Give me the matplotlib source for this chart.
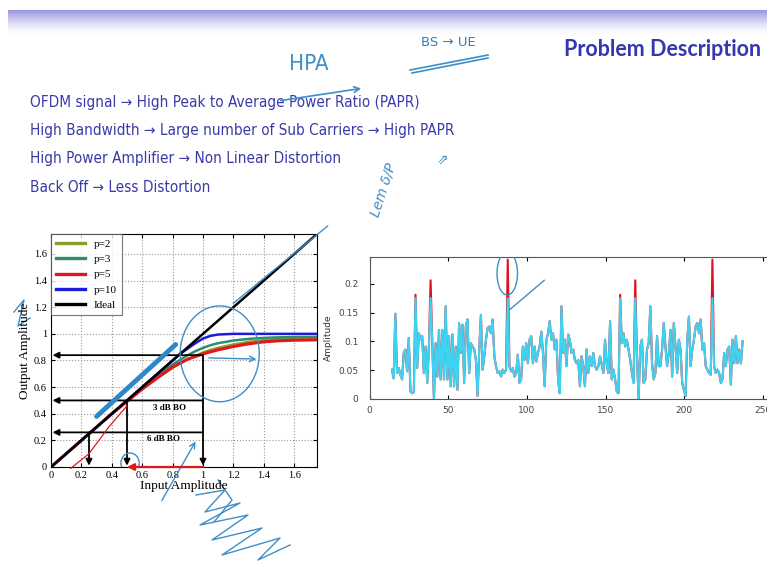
import numpy as np
import matplotlib
matplotlib.use("Agg")
import matplotlib.pyplot as plt
from matplotlib.patches import Ellipse

# ---- slide text ----
title = "Problem Description"
bullets = [
    "OFDM signal \u2192 High Peak to Average Power Ratio (PAPR)",
    "High Bandwidth \u2192 Large number of Sub Carriers \u2192 High PAPR",
    "High Power Amplifier \u2192 Non Linear Distortion",
    "Back Off \u2192 Less Distortion",
]

# ---- left chart: AM/AM curves ----
x_in = [0, 0.2, 0.4, 0.6, 0.7, 0.8, 0.85, 0.9, 0.95, 1.0, 1.05, 1.1, 1.2, 1.3, 1.4, 1.5, 1.6, 1.75]
out_p2 = [0, 0.2, 0.4, 0.585, 0.67, 0.745, 0.78, 0.81, 0.835, 0.86, 0.88, 0.895, 0.92, 0.94, 0.952, 0.96, 0.965, 0.97]
out_p3 = [0, 0.2, 0.4, 0.595, 0.685, 0.77, 0.805, 0.84, 0.87, 0.895, 0.915, 0.93, 0.95, 0.962, 0.97, 0.974, 0.976, 0.977]
out_p5 = [0, 0.2, 0.4, 0.585, 0.67, 0.75, 0.78, 0.81, 0.83, 0.85, 0.865, 0.88, 0.905, 0.925, 0.94, 0.948, 0.952, 0.955]
out_p10 = [0, 0.2, 0.4, 0.6, 0.7, 0.8, 0.85, 0.89, 0.93, 0.965, 0.985, 0.995, 1.0, 1.0, 1.0, 1.0, 1.0, 1.0]
ideal_x = [0, 1.75]
curve_labels = ["p=2", "p=3", "p=5", "p=10", "Ideal"]
curve_colors = ["#8f9a2c", "#2f8c72", "#e3161c", "#1c1cd6", "#000000"]

# back-off guide arrows
bo_out = [0.84, 0.5, 0.26]
bo_in = [1.0, 0.5, 0.25]
bo_text = ["3 dB BO", "6 dB BO"]
bo_text_pos = [(0.78, 0.44), (0.74, 0.21)]

# ---- right chart: OFDM signal amplitude ----
amp = [0.051, 0.036, 0.148, 0.045, 0.054, 0.042, 0.034, 0.080, 0.086, 0.048,
       0.106, 0.013, 0.010, 0.012, 0.181, 0.054, 0.114, 0.103, 0.109, 0.045,
       0.091, 0.028, 0.091, 0.206, 0.097, 0.000, 0.097, 0.039, 0.120, 0.034,
       0.120, 0.034, 0.161, 0.034, 0.109, 0.022, 0.112, 0.022, 0.091, 0.016,
       0.132, 0.080, 0.129, 0.028, 0.126, 0.138, 0.045, 0.097, 0.091, 0.086,
       0.068, 0.005, 0.086, 0.146, 0.051, 0.074, 0.103, 0.123, 0.126, 0.114,
       0.138, 0.074, 0.057, 0.045, 0.048, 0.039, 0.051, 0.045, 0.051, 0.242,
       0.057, 0.048, 0.054, 0.039, 0.045, 0.077, 0.028, 0.034, 0.091, 0.068,
       0.097, 0.062, 0.103, 0.109, 0.062, 0.091, 0.065, 0.080, 0.091, 0.117,
       0.080, 0.022, 0.103, 0.114, 0.135, 0.103, 0.114, 0.086, 0.103, 0.034,
       0.010, 0.161, 0.080, 0.103, 0.057, 0.112, 0.103, 0.080, 0.086, 0.068,
       0.062, 0.068, 0.022, 0.074, 0.057, 0.022, 0.086, 0.045, 0.074, 0.057,
       0.080, 0.057, 0.051, 0.057, 0.074, 0.060, 0.045, 0.103, 0.060, 0.045,
       0.135, 0.034, 0.051, 0.034, 0.013, 0.010, 0.181, 0.097, 0.114, 0.091,
       0.103, 0.086, 0.068, 0.045, 0.028, 0.206, 0.074, 0.000, 0.091, 0.103,
       0.028, 0.034, 0.086, 0.097, 0.161, 0.062, 0.034, 0.045, 0.109, 0.057,
       0.057, 0.086, 0.132, 0.091, 0.057, 0.080, 0.120, 0.039, 0.132, 0.091,
       0.045, 0.103, 0.086, 0.028, 0.016, 0.005, 0.103, 0.143, 0.057, 0.086,
       0.103, 0.126, 0.132, 0.114, 0.138, 0.086, 0.097, 0.057, 0.051, 0.045,
       0.042, 0.242, 0.057, 0.045, 0.051, 0.045, 0.028, 0.034, 0.080, 0.057,
       0.086, 0.091, 0.025, 0.103, 0.062, 0.109, 0.062, 0.086, 0.062, 0.100]
first_sample, last_sample = 14.3, 237.0
clip_level = 0.175

pen = "#3d8fc6"

fig = plt.figure(figsize=(7.67, 5.77), dpi=100)
fig.patch.set_facecolor("white")

# background canvas in pixel units
bg = fig.add_axes([0, 0, 1, 1])
bg.set_xlim(0, 767)
bg.set_ylim(577, 0)
bg.axis("off")

# header gradient band
grad = np.linspace(0, 1, 60)[:, None]
top_col = np.array([150, 148, 224]) / 255
band = top_col[None, None, :] * (1 - grad[..., None]) ** 1.6 + (1 - (1 - grad[..., None]) ** 1.6)
bg.imshow(np.repeat(band, 2, axis=1), extent=(8, 767, 36, 10), aspect="auto", zorder=0)

bg.text(761, 50, title, ha="right", va="center", fontsize=15.5, fontweight="bold",
        color="#3636b0", family=["Lato", "DejaVu Sans"])
for i, line in enumerate(bullets):
    bg.text(30, 103 + 28 * i, line, ha="left", va="center", fontsize=11,
            color="#3a3aa8", family=["DejaVu Sans"], fontstretch="condensed")

# handwriting on the slide
bg.text(309, 64, "HPA", ha="center", va="center", fontsize=16, color=pen,
        fontweight="light", fontstretch="condensed")
bg.text(448, 42, "BS \u2192 UE", ha="center", va="center", fontsize=9.5, color="#2f7fbf")
bg.annotate("", xy=(364, 88), xytext=(278, 101),
            arrowprops=dict(arrowstyle="->", color=pen, lw=1.2))
bg.plot([410, 488], [70, 55], color=pen, lw=1.2)
bg.plot([412, 488], [73, 58], color=pen, lw=1.2)
bg.text(383, 190, "Lem \u03b4/P", rotation=72, ha="center", va="center",
        fontsize=10, color=pen, style="italic")
bg.text(443, 160, "\u21d7", ha="center", va="center", fontsize=10, color=pen)
bg.text(328, 338, "Amplitude", rotation=90, ha="center", va="center",
        fontsize=6.5, color="#333333")

# pen scribbles around the left chart (pixel units)
scribble_x = [196, 225, 205, 240, 200, 248, 212, 262, 222, 280, 258, 290]
scribble_y = [495, 490, 512, 503, 525, 515, 540, 528, 555, 538, 560, 545]
bg.plot(scribble_x, scribble_y, color=pen, lw=1.0)
bg.plot([218, 232, 214], [480, 500, 522], color=pen, lw=1.0)
bg.plot([14, 24, 18, 30], [312, 300, 326, 318], color=pen, lw=1.0)
bg.plot([52, 54], [360, 386], color=pen, lw=1.0)

# ---- left chart ----
ax = fig.add_axes([51 / 767, 110 / 577, 266 / 767, 233 / 577])
serif = ["Liberation Serif", "DejaVu Serif"]
curves = [out_p2, out_p3, out_p5, out_p10]
for ys, lab, col in zip(curves, curve_labels[:4], curve_colors[:4]):
    ax.plot(x_in, ys, color=col, lw=2.2 if lab == "p=5" else 1.8, label=lab, zorder=3)
ax.plot(ideal_x, ideal_x, color="black", lw=1.8, label="Ideal", zorder=3)

for yl in bo_out:
    ax.annotate("", xy=(0.01, yl), xytext=(1.0, yl),
                arrowprops=dict(arrowstyle="-|>", color="black", lw=1.3,
                                mutation_scale=9, shrinkA=0, shrinkB=0), zorder=4)
for xl, yl in zip(bo_in, bo_out):
    ax.annotate("", xy=(xl, 0.01), xytext=(xl, yl),
                arrowprops=dict(arrowstyle="-|>", color="black", lw=1.3,
                                mutation_scale=9, shrinkA=0, shrinkB=0), zorder=4)
for t, (tx, ty) in zip(bo_text, bo_text_pos):
    ax.text(tx, ty, t, ha="center", va="center", fontsize=6.5, fontweight="bold",
            family=serif)

ax.set_xlim(0, 1.75)
ax.set_ylim(0, 1.75)
ax.set_xticks(np.arange(0, 1.61, 0.2))
ax.set_yticks(np.arange(0, 1.61, 0.2))
ax.set_xticklabels(["0", "0.2", "0.4", "0.6", "0.8", "1", "1.2", "1.4", "1.6"], family=serif)
ax.set_yticklabels(["0", "0.2", "0.4", "0.6", "0.8", "1", "1.2", "1.4", "1.6"], family=serif)
ax.tick_params(direction="in", labelsize=7.5, pad=3, length=3, top=True, right=True)
ax.grid(True, linestyle=":", color="#999999", lw=0.8)
ax.set_xlabel("Input Amplitude", family=serif, fontsize=9.5, labelpad=0)
ax.set_ylabel("Output Amplitude", family=serif, fontsize=9.5, labelpad=2)
leg = ax.legend(loc="upper left", prop={"family": serif, "size": 8}, frameon=True,
                fancybox=False, edgecolor="#555555", borderpad=0.45, handlelength=2.6,
                labelspacing=0.5, borderaxespad=0)
leg.get_frame().set_linewidth(0.8)
for lh in leg.get_lines():
    lh.set_linewidth(2.4)

# pen marks over the left chart
ax.plot([0.3, 0.82], [0.38, 0.92], color="#2f86c8", lw=3.5, solid_capstyle="round", zorder=5)
ax.plot([1.2, 1.82], [1.23, 1.81], color=pen, lw=1.0, clip_on=False, zorder=5)
ax.add_patch(Ellipse((1.11, 0.85), 0.52, 0.72, fill=False, ec=pen, lw=1.0, zorder=5))
ax.annotate("", xy=(1.37, 0.81), xytext=(1.02, 0.82),
            arrowprops=dict(arrowstyle="->", color=pen, lw=1.0), zorder=5)
ax.add_patch(Ellipse((0.52, 0.03), 0.12, 0.15, fill=False, ec=pen, lw=1.0, zorder=5))
ax.annotate("", xy=(0.96, 0.21), xytext=(0.72, -0.27), annotation_clip=False,
            arrowprops=dict(arrowstyle="->", color=pen, lw=1.0), zorder=5)
ax.annotate("", xy=(0.5, 0.0), xytext=(1.0, 0.0),
            arrowprops=dict(arrowstyle="-|>", color="#e3161c", lw=1.6,
                            mutation_scale=10, shrinkA=0, shrinkB=0), zorder=5)
ax.plot([0.13, 0.25, 0.38, 0.5], [-0.01, 0.1, 0.3, 0.46], color="#e3161c", lw=0.9,
        clip_on=False, zorder=5)

# ---- right chart ----
ax2 = fig.add_axes([369.5 / 767, 178 / 577, 400.5 / 767, 142 / 577])
xs = np.linspace(first_sample, last_sample, len(amp))
amp_arr = np.array(amp)
ax2.plot(xs, amp_arr, color="#e0101e", lw=1.5, zorder=2)
ax2.plot(xs, np.minimum(amp_arr, clip_level), color="#3fd3f2", lw=1.5, zorder=3)
ax2.set_xlim(0, 254.4)
ax2.set_ylim(0, 0.2465)
ax2.set_xticks([0, 50, 100, 150, 200, 250])
ax2.set_yticks([0, 0.05, 0.1, 0.15, 0.2])
ax2.set_yticklabels(["0", "0.05", "0.1", "0.15", "0.2"])
ax2.tick_params(direction="in", labelsize=6.5, length=3, top=True, labelcolor="#444444",
                pad=8)
ax2.tick_params(axis="x", pad=5)
for s in ax2.spines.values():
    s.set_color("#555555")
ax2.spines["right"].set_visible(False)
ax2.add_patch(Ellipse((87.5, 0.218), 13, 0.075, fill=False, ec=pen, lw=1.0, zorder=5))
ax2.plot([89, 111], [0.155, 0.206], color=pen, lw=1.0, zorder=5)

fig.savefig("out.png", dpi=100)
